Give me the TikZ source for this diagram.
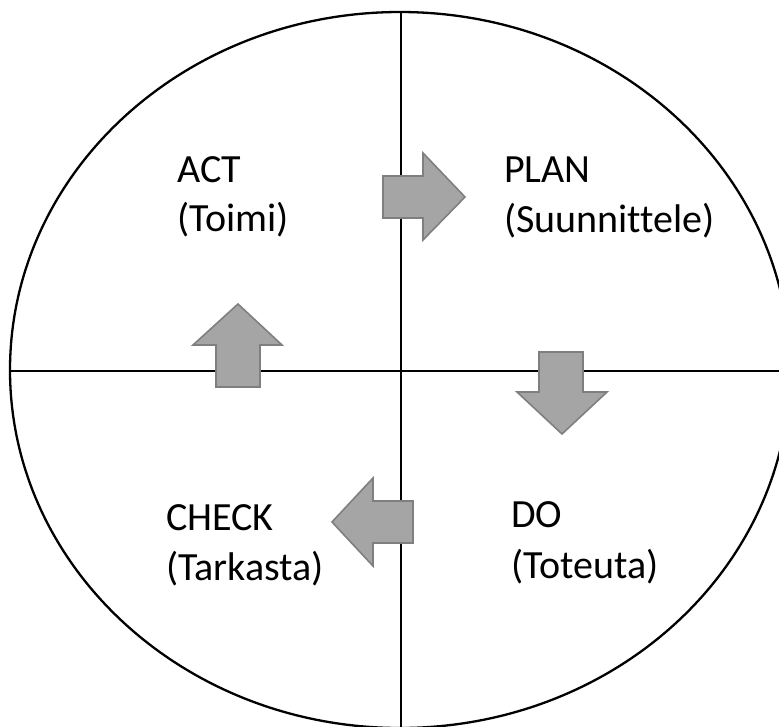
\documentclass[tikz,border=0pt]{standalone}
\usepackage{fontspec}
\setmainfont[Ligatures={NoCommon}]{Carlito}
\definecolor{arrfill}{HTML}{A5A5A5}
\definecolor{arrline}{HTML}{7F7F7F}
\begin{document}
\begin{tikzpicture}[x=1pt,y=-1pt,
  axis/.style={line width=2.3pt,black},
  blockarrow/.style={fill=arrfill,draw=arrline,line width=1.6pt,line join=miter},
  lbl/.style={anchor=base west,inner sep=0pt,font=\fontsize{40}{48}\selectfont,text=black}]
\useasboundingbox (0,0) rectangle (779,726);
\begin{scope}
\clip (0,0) rectangle (779,726);
\draw[axis] (400,370) ellipse [x radius=390, y radius=358];
\draw[axis] (401,12) -- (401,730);
\draw[axis] (10,371) -- (782,371);
\end{scope}
% arrows
\draw[blockarrow] (383,176) -- (423,176) -- (423,153) -- (465,197) -- (423,240) -- (423,218) -- (383,218) -- cycle;
\draw[blockarrow] (539,352) -- (583,352) -- (583,392) -- (607,392) -- (562,434) -- (517,392) -- (539,392) -- cycle;
\draw[blockarrow] (413,501) -- (413,543) -- (373,543) -- (373,566) -- (332,522) -- (373,478) -- (373,501) -- cycle;
\draw[blockarrow] (216,387) -- (260,387) -- (260,345) -- (282,345) -- (238,304) -- (193,345) -- (216,345) -- cycle;
% labels
\node[lbl] (act) at (177,182) {ACT};
\node[lbl] (acts) at (177,231) {(Toimi)};
\node[lbl] (plan) at (504,182) {PLAN};
\node[lbl] (plans) at (504,232) {(Suunnittele)};
\node[lbl] (check) at (166,530) {CHECK};
\node[lbl] (checks) at (166,580) {(Tarkasta)};
\node[lbl] (do) at (511,527) {DO};
\node[lbl] (dos) at (511,578) {(Toteuta)};
\end{tikzpicture}
\end{document}
